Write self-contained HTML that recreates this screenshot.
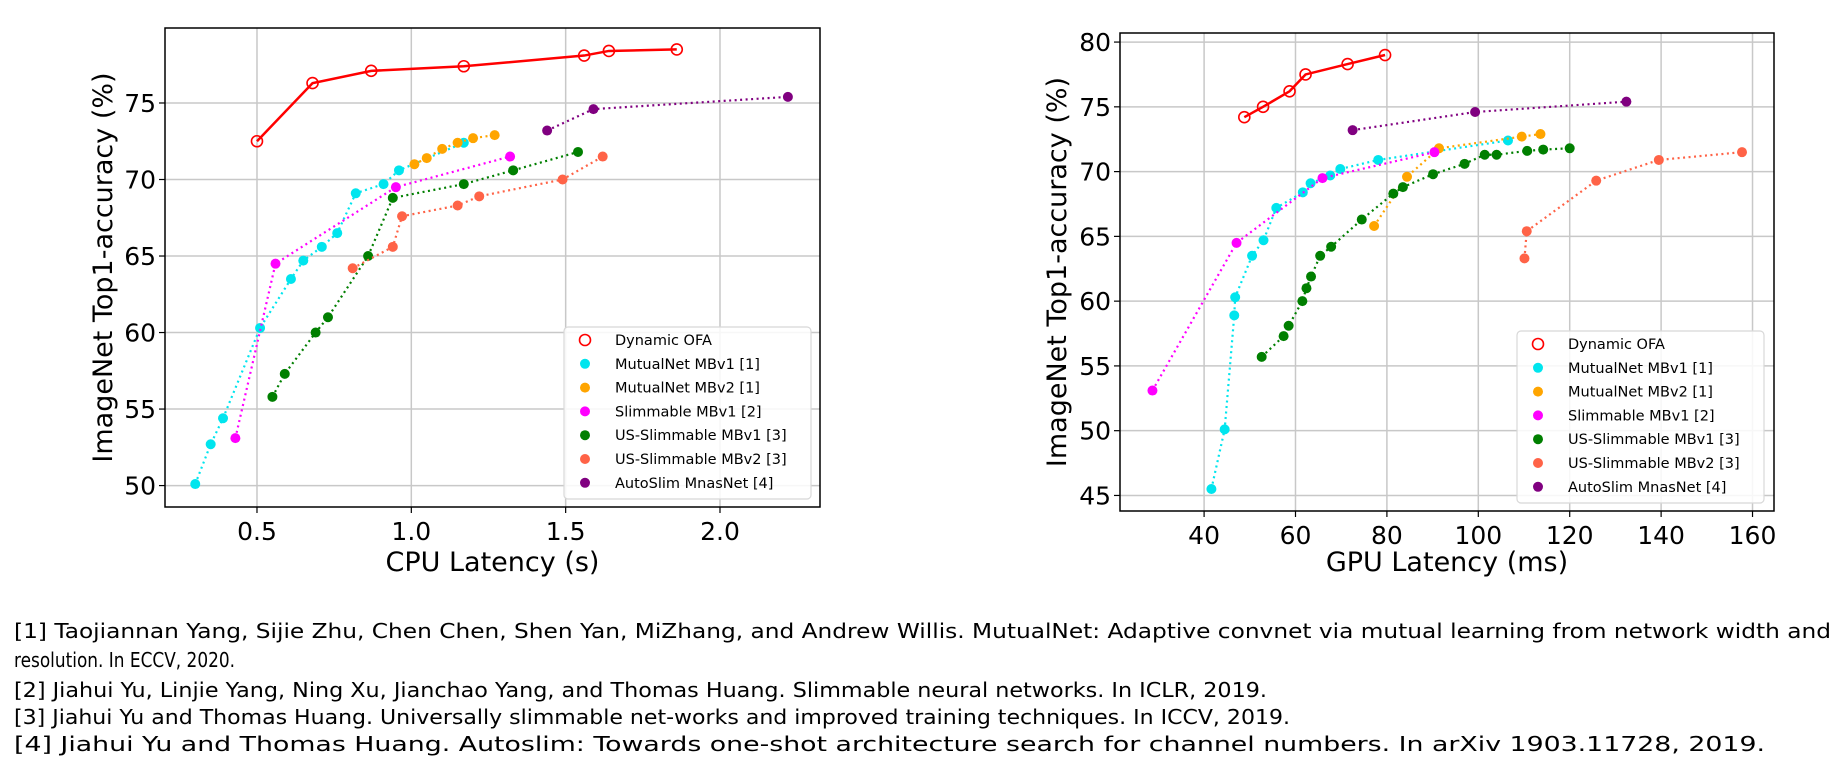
<!DOCTYPE html>
<html><head><meta charset="utf-8"><style>
html,body{margin:0;padding:0;background:#fff}
svg{display:block}
text{font-family:"DejaVu Sans","Liberation Sans",sans-serif}
</style></head><body>
<svg id="s" width="1844" height="772" viewBox="0 0 1844 772">
<g id="footnotes" font-size="20" fill="#000">
<text x="14" y="638" textLength="1817" lengthAdjust="spacingAndGlyphs">[1] Taojiannan Yang, Sijie Zhu, Chen Chen, Shen Yan, MiZhang, and Andrew Willis. MutualNet: Adaptive convnet via mutual learning from network width and</text>
<text x="14" y="667" textLength="221" lengthAdjust="spacingAndGlyphs">resolution. In ECCV, 2020.</text>
<text x="14" y="697" textLength="1253" lengthAdjust="spacingAndGlyphs">[2] Jiahui Yu, Linjie Yang, Ning Xu, Jianchao Yang, and Thomas Huang. Slimmable neural networks. In ICLR, 2019.</text>
<text x="14" y="724" textLength="1276" lengthAdjust="spacingAndGlyphs">[3] Jiahui Yu and Thomas Huang. Universally slimmable net-works and improved training techniques. In ICCV, 2019.</text>
<text x="14" y="751" textLength="1751" lengthAdjust="spacingAndGlyphs">[4] Jiahui Yu and Thomas Huang. Autoslim: Towards one-shot architecture search for channel numbers. In arXiv 1903.11728, 2019.</text>
</g>
</svg>
<script>
// ---- data: CPU chart ----
const seriesNames = ["Dynamic OFA","MutualNet MBv1 [1]","MutualNet MBv2 [1]","Slimmable MBv1 [2]","US-Slimmable MBv1 [3]","US-Slimmable MBv2 [3]","AutoSlim MnasNet [4]"];
const cpuOfaX = [0.50,0.68,0.87,1.17,1.56,1.64,1.86];
const cpuOfaY = [72.5,76.3,77.1,77.4,78.1,78.4,78.5];
const cpuMut1X = [0.30,0.35,0.39,0.51,0.61,0.65,0.71,0.76,0.82,0.91,0.96,1.17];
const cpuMut1Y = [50.1,52.7,54.4,60.3,63.5,64.7,65.6,66.5,69.1,69.7,70.6,72.4];
const cpuMut2X = [1.01,1.05,1.10,1.15,1.20,1.27];
const cpuMut2Y = [71.0,71.4,72.0,72.4,72.7,72.9];
const cpuSlimX = [0.43,0.56,0.95,1.32];
const cpuSlimY = [53.1,64.5,69.5,71.5];
const cpuUs1X = [0.55,0.59,0.69,0.73,0.86,0.94,1.17,1.33,1.54];
const cpuUs1Y = [55.8,57.3,60.0,61.0,65.0,68.8,69.7,70.6,71.8];
const cpuUs2X = [0.81,0.94,0.97,1.15,1.22,1.49,1.62];
const cpuUs2Y = [64.2,65.6,67.6,68.3,68.9,70.0,71.5];
const cpuAutoX = [1.44,1.59,2.22];
const cpuAutoY = [73.2,74.6,75.4];
const cpuXTicks = [0.5,1.0,1.5,2.0];
const cpuXTickLabels = ["0.5","1.0","1.5","2.0"];
const cpuYTicks = [50,55,60,65,70,75];
// ---- data: GPU chart ----
const gpuOfaX = [48.8,52.9,58.7,62.2,71.4,79.6];
const gpuOfaY = [74.2,75.0,76.2,77.5,78.3,79.0];
const gpuMut1X = [41.6,44.5,46.6,46.8,50.5,53.0,55.8,61.6,63.3,67.6,69.8,78.1,106.5];
const gpuMut1Y = [45.5,50.1,58.9,60.3,63.5,64.7,67.2,68.4,69.1,69.7,70.2,70.9,72.4];
const gpuMut2X = [77.2,84.4,91.4,109.5,113.6];
const gpuMut2Y = [65.8,69.6,71.8,72.7,72.9];
const gpuSlimX = [28.7,47.1,65.9,90.4];
const gpuSlimY = [53.1,64.5,69.5,71.5];
const gpuUs1X = [52.6,57.4,58.5,61.5,62.4,63.4,65.4,67.8,74.5,81.4,83.5,90.1,97.0,101.4,104.0,110.7,114.2,120.0];
const gpuUs1Y = [55.7,57.3,58.1,60.0,61.0,61.9,63.5,64.2,66.3,68.3,68.8,69.8,70.6,71.3,71.3,71.6,71.7,71.8];
const gpuUs2X = [110.1,110.6,125.8,139.5,157.7];
const gpuUs2Y = [63.3,65.4,69.3,70.9,71.5];
const gpuAutoX = [72.5,99.3,132.4];
const gpuAutoY = [73.2,74.6,75.4];
const gpuXTicks = [40,60,80,100,120,140,160];
const gpuYTicks = [45,50,55,60,65,70,75,80];

const colors = ["#ff0000","#00e5ee","#ffa500","#ff00ff","#007f00","#ff6347","#800080"];
const NS = "http://www.w3.org/2000/svg";
const svg = document.getElementById('s');
function mk(tag, attrs, parent){const e=document.createElementNS(NS,tag);for(const k in attrs)e.setAttribute(k,attrs[k]);(parent||svg).appendChild(e);return e;}

function chart(cfg){
  const g = mk('g',{});
  
  
  const {L,R,T,B,x0,x1,y0,y1} = cfg;
  const sx = v => L + (v-x0)/(x1-x0)*(R-L);
  const sy = v => B - (v-y0)/(y1-y0)*(B-T);
  mk('rect',{x:L,y:T,width:R-L,height:B-T,fill:'#fff'},g);
  cfg.xt.forEach((t,i)=>{
    const x=sx(t);
    const gl=mk('line',{x1:x,x2:x,y1:T,y2:B,stroke:'#c8c8c8','stroke-width':1.5},g);
    
    
    mk('line',{x1:x,x2:x,y1:B,y2:B+6,stroke:'#000','stroke-width':1.2},g);
    const tx=mk('text',{x:x,y:B+33,'font-size':25,'text-anchor':'middle'},g);
    tx.textContent=cfg.xl[i];
    
    
  });
  cfg.yt.forEach(t=>{
    const y=sy(t);
    const gl=mk('line',{x1:L,x2:R,y1:y,y2:y,stroke:'#c8c8c8','stroke-width':1.5},g);
    
    
    mk('line',{x1:L-6,x2:L,y1:y,y2:y,stroke:'#000','stroke-width':1.2},g);
    const tx=mk('text',{x:L-9,y:y+9,'font-size':25,'text-anchor':'end'},g);
    tx.textContent=String(t);
    
    
  });
  const clipId = cfg.name+'-clip';
  const cp = mk('clipPath',{id:clipId},g); mk('rect',{x:L,y:T,width:R-L,height:B-T},cp);
  const pg = mk('g',{'clip-path':'url(#'+clipId+')'},g);
  cfg.series.forEach((s,si)=>{
    const sg=mk('g',{},pg);
    
    
    const pts=s[0].map((v,i)=>sx(v)+','+sy(s[1][i])).join(' ');
    const pl=mk('polyline',{points:pts,fill:'none',stroke:colors[si],'stroke-width':si===0?2.5:2.2,'stroke-dasharray':si===0?'none':'2 3.5'},sg);
    
    
    s[0].forEach((v,i)=>{
      const c = si===0 ? mk('circle',{cx:sx(v),cy:sy(s[1][i]),r:5.5,fill:'none',stroke:colors[si],'stroke-width':1.6},sg)
                       : mk('circle',{cx:sx(v),cy:sy(s[1][i]),r:5,fill:colors[si]},sg);
      
      
    });
  });
  mk('rect',{x:L,y:T,width:R-L,height:B-T,fill:'none',stroke:'#000','stroke-width':1.5},g);
  const lg=mk('g',{},g);
  
  
  mk('rect',{x:cfg.lx,y:cfg.ly,width:247,height:172,rx:4,fill:'#fff','fill-opacity':0.85,stroke:'#d8d8d8','stroke-width':1.2},lg);
  seriesNames.forEach((n,i)=>{
    const yy=cfg.ly+13+i*23.8;
    const en=mk('g',{},lg);
    
    
    if(i===0) mk('circle',{cx:cfg.lx+21,cy:yy,r:5.5,fill:'none',stroke:colors[i],'stroke-width':1.6},en);
    else mk('circle',{cx:cfg.lx+21,cy:yy,r:5,fill:colors[i]},en);
    const t=mk('text',{x:cfg.lx+51,y:yy+5,'font-size':14.5},en);
    t.textContent=n;
  });
  const xt=mk('text',{x:(L+R)/2,y:B+cfg.xty,'font-size':27,'text-anchor':'middle'},g);
  xt.textContent=cfg.xtitle;
  
  
  const yc=(T+B)/2;
  const yt=mk('text',{x:cfg.ytx,y:yc,'font-size':27,'text-anchor':'middle',transform:'rotate(-90 '+cfg.ytx+' '+yc+')'},g);
  yt.textContent='ImageNet Top1-accuracy (%)';
  
  
}

chart({name:'cpu-chart',L:165,R:820,T:28,B:507,x0:0.202,x1:2.324,y0:48.6,y1:79.9,
  xt:cpuXTicks,xl:cpuXTickLabels,yt:cpuYTicks,xtitle:'CPU Latency (s)',xty:64,ytx:112,lx:564,ly:327,
  series:[[cpuOfaX,cpuOfaY],[cpuMut1X,cpuMut1Y],[cpuMut2X,cpuMut2Y],[cpuSlimX,cpuSlimY],[cpuUs1X,cpuUs1Y],[cpuUs2X,cpuUs2Y],[cpuAutoX,cpuAutoY]]});
chart({name:'gpu-chart',L:1120,R:1774,T:33,B:511,x0:21.6,x1:164.7,y0:43.8,y1:80.7,
  xt:gpuXTicks,xl:gpuXTicks.map(String),yt:gpuYTicks,xtitle:'GPU Latency (ms)',xty:60,ytx:1066,lx:1517,ly:331,
  series:[[gpuOfaX,gpuOfaY],[gpuMut1X,gpuMut1Y],[gpuMut2X,gpuMut2Y],[gpuSlimX,gpuSlimY],[gpuUs1X,gpuUs1Y],[gpuUs2X,gpuUs2Y],[gpuAutoX,gpuAutoY]]});
</script>
</body></html>
